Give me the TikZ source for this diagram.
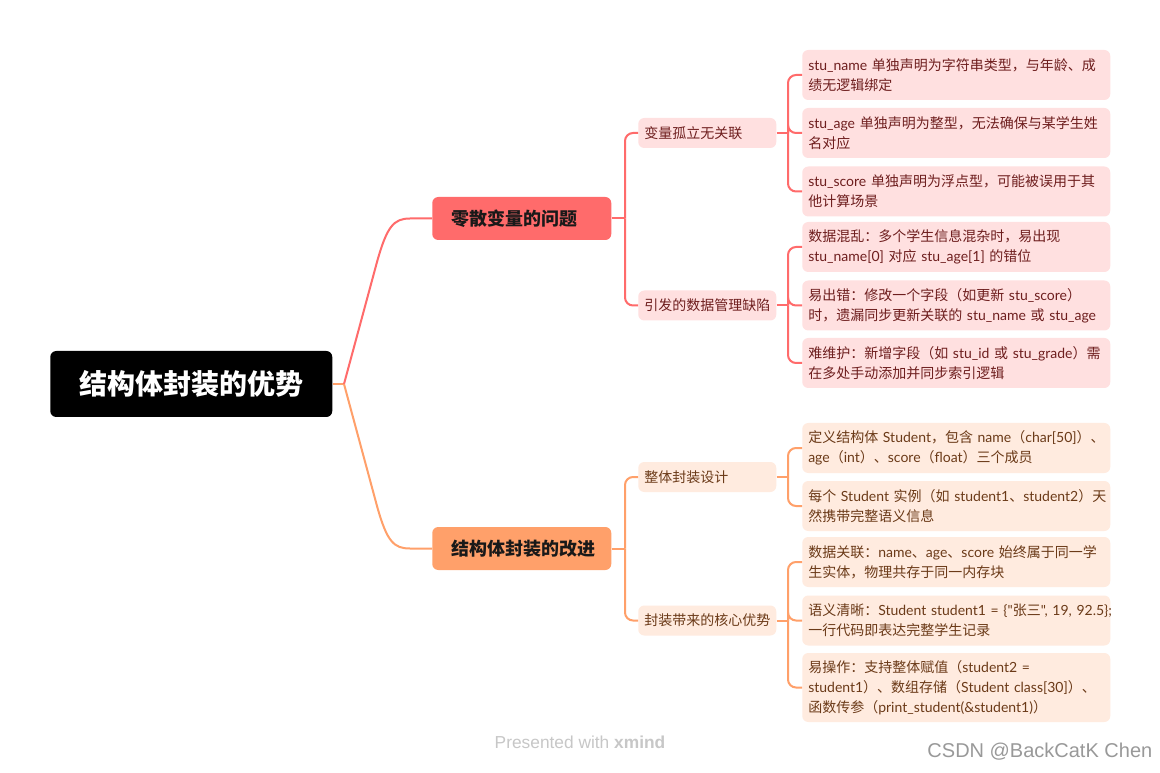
\documentclass[tikz,border=0pt]{standalone}
\usepackage{fontspec}
\setmainfont{Noto Sans CJK SC}[Ligatures=TeXOff]
\newfontfamily\latf{Lato}[Ligatures=TeXOff]
\newfontfamily\wmfont{Liberation Sans}
\newcommand\ltn[1]{{\latf #1}}
\definecolor{cA}{HTML}{FF6B6B}
\definecolor{cB}{HTML}{FFA06A}
\definecolor{fA}{HTML}{FFE0E0}
\definecolor{fB}{HTML}{FFEBDF}
\definecolor{tA}{HTML}{6E1E1E}
\definecolor{tB}{HTML}{6B3A18}
\begin{document}
\begin{tikzpicture}[x=0.75pt,y=-0.75pt,
  rootbox/.style={fill=black, rounded corners=4.5pt, minimum width=211.5pt, minimum height=49.5pt,
    inner sep=0pt, text=white, font=\bfseries\fontsize{21}{24}\selectfont},
  brbox/.style={rounded corners=4.5pt, text width=105.75pt, inner xsep=14.25pt, inner ysep=0pt,
    minimum height=32.25pt, align=left, text=black!90, font=\bfseries\fontsize{13.5}{16}\selectfont},
  subbox/.style={rounded corners=4.5pt, text width=94.5pt, inner xsep=4.5pt, inner ysep=0pt,
    minimum height=22.5pt, align=left, font=\fontsize{10.5}{15}\selectfont},
  leafbox/.style={rounded corners=4.5pt, text width=222pt, inner xsep=4.5pt, inner ysep=0pt,
    minimum height=37.5pt, align=left, font=\fontsize{10.5}{15}\selectfont},
  grpA/.style={fill=fA, text=tA},
  grpB/.style={fill=fB, text=tB},
  lnA/.style={draw=cA, line width=1.5pt, rounded corners=6pt},
  lnB/.style={draw=cB, line width=1.5pt, rounded corners=6pt}
]
\useasboundingbox (0,0) rectangle (1160,773);
\fill[white] (0,0) rectangle (1160,773);

% nodes
\node[rootbox, anchor=west] (root) at (50,384) {结构体封装的优势};
\node[brbox, fill=cA, anchor=west] (b1) at (432,218.5) {零散变量的问题};
\node[brbox, fill=cB, anchor=west] (b2) at (432,548.5) {结构体封装的改进};

\node[subbox, grpA, anchor=west] (s1) at (638,133) {变量孤立无关联};
\node[subbox, grpA, anchor=west] (s2) at (638,305.5) {引发的数据管理缺陷};
\node[subbox, grpB, anchor=west] (s3) at (638,477) {整体封装设计};
\node[subbox, grpB, anchor=west] (s4) at (638,620.5) {封装带来的核心优势};

\node[leafbox, grpA, anchor=west] (l1) at (802,75) {\ltn{stu\_name} 单独声明为字符串类型，与年龄、成\\绩无逻辑绑定};
\node[leafbox, grpA, anchor=west] (l2) at (802,133) {\ltn{stu\_age} 单独声明为整型，无法确保与某学生姓\\名对应};
\node[leafbox, grpA, anchor=west] (l3) at (802,191.5) {\ltn{stu\_score} 单独声明为浮点型，可能被误用于其\\他计算场景};
\node[leafbox, grpA, anchor=west] (l4) at (802,247) {数据混乱：多个学生信息混杂时，易出现\\\ltn{stu\_name[0]} 对应 \ltn{stu\_age[1]} 的错位};
\node[leafbox, grpA, anchor=west] (l5) at (802,305.5) {\mbox{易出错：修改一个字段（如更新 \ltn{stu\_score}）}\\\mbox{时，遗漏同步更新关联的 \ltn{stu\_name} 或 \ltn{stu\_age}}};
\node[leafbox, grpA, anchor=west] (l6) at (802,363) {\mbox{难维护：新增字段（如 \ltn{stu\_id} 或 \ltn{stu\_grade}）需}\\在多处手动添加并同步索引逻辑};
\node[leafbox, grpB, anchor=west] (l7) at (802,448) {\mbox{定义结构体 \ltn{Student}，包含 \ltn{name}（\ltn{char[50]}）、}\\\mbox{\ltn{age}（\ltn{int}）、\ltn{score}（\ltn{float}）三个成员}};
\node[leafbox, grpB, anchor=west] (l8) at (802,506) {\mbox{每个 \ltn{Student} 实例（如 \ltn{student1}、\ltn{student2}）天}\\然携带完整语义信息};
\node[leafbox, grpB, anchor=west] (l9) at (802,562) {\mbox{数据关联：\ltn{name}、\ltn{age}、\ltn{score} 始终属于同一学}\\生实体，物理共存于同一内存块};
\node[leafbox, grpB, anchor=west] (l10) at (802,620.5) {\mbox{语义清晰：\ltn{Student student1 = \{"}张三\ltn{", 19, 92.5\};}}\\一行代码即表达完整学生记录};
\node[leafbox, grpB, anchor=west, minimum height=51.75pt] (l11) at (802,687.5) {\mbox{易操作：支持整体赋值（\ltn{student2 =}}\\\mbox{\ltn{student1}）、数组存储（\ltn{Student class[30]}）、}\\\mbox{函数传参（\ltn{print\_student(\&student1)}）}};

% root connectors
\coordinate (r0) at (344,384);
\draw[lnB, rounded corners=0pt] (root.east) -- (r0);
\draw[draw=cA, line width=1.5pt] (r0) -- (377,262) .. controls (387,226) and (394,218.5) .. (410,218.5) -- (b1.west);
\draw[draw=cB, line width=1.5pt] (r0) -- (377,506) .. controls (387,542) and (394,548.5) .. (410,548.5) -- (b2.west);

% branch -> sub
\coordinate (j1) at (625,218.5);
\coordinate (j2) at (625,548.5);
\draw[lnA] (b1.east) -- (j1);
\draw[lnA] (j1) |- (s1.west);
\draw[lnA] (j1) |- (s2.west);
\draw[lnB] (b2.east) -- (j2);
\draw[lnB] (j2) |- (s3.west);
\draw[lnB] (j2) |- (s4.west);

% sub -> leaves
\coordinate (k1) at (788,133);
\coordinate (k2) at (788,305.5);
\coordinate (k3) at (788,477);
\coordinate (k4) at (788,620.5);
\draw[lnA] (s1.east) -- (k1);
\draw[lnA] (k1) |- (l1.west);
\draw[lnA] (k1) |- (l2.west);
\draw[lnA] (k1) |- (l3.west);
\draw[lnA] (s2.east) -- (k2);
\draw[lnA] (k2) |- (l4.west);
\draw[lnA] (k2) |- (l5.west);
\draw[lnA] (k2) |- (l6.west);
\draw[lnB] (s3.east) -- (k3);
\draw[lnB] (k3) |- (l7.west);
\draw[lnB] (k3) |- (l8.west);
\draw[lnB] (s4.east) -- (k4);
\draw[lnB] (k4) |- (l9.west);
\draw[lnB] (k4) |- (l10.west);
\draw[lnB] (k4) |- (l11.west);

% watermarks
\node[font=\wmfont\fontsize{13}{13}\selectfont, text=black!22] (wm1) at (580,742) {Presented with \textbf{xmind}};
\node[anchor=east, font=\wmfont\fontsize{15}{15}\selectfont, text=black!40] (wm2) at (1157,752) {CSDN @BackCatK Chen};
\end{tikzpicture}
\end{document}
